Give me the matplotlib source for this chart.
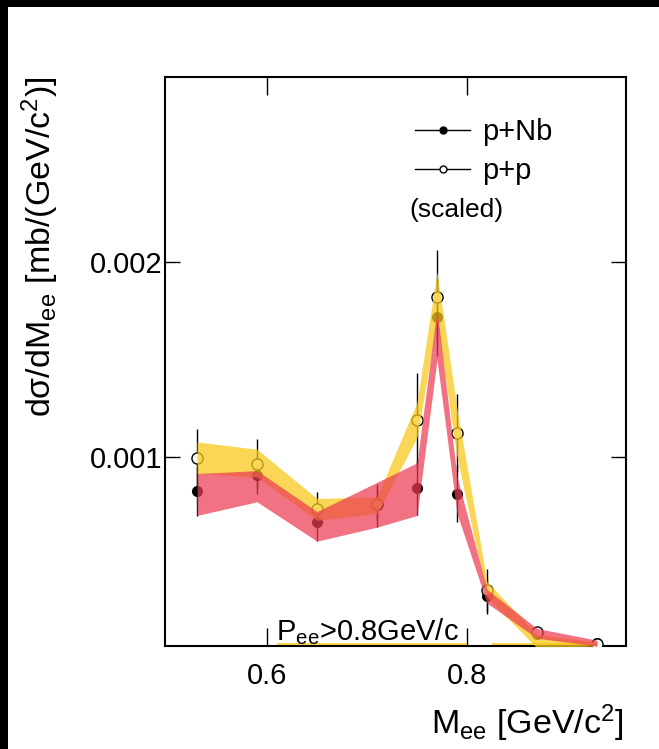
import matplotlib
matplotlib.use('Agg')
import matplotlib.pyplot as plt
from matplotlib.lines import Line2D
from matplotlib.patches import Rectangle

plt.rcParams['font.family'] = ['Liberation Sans', 'DejaVu Sans']
plt.rcParams['mathtext.fontset'] = 'custom'
plt.rcParams['mathtext.rm'] = 'Liberation Sans'
plt.rcParams['mathtext.it'] = 'Liberation Sans:italic'
plt.rcParams['mathtext.bf'] = 'Liberation Sans:bold'

# dielectron invariant mass bins (GeV/c^2)
mass = [0.53, 0.59, 0.65, 0.71, 0.75, 0.77, 0.79, 0.82, 0.87, 0.93]

# p+Nb: value, statistical error, systematic band
nb_val = [0.000826, 0.00091, 0.000667, 0.000752, 0.000841, 0.00172, 0.000812, 0.000286, 0.000094, 0.000048]
nb_err = [0.00013, 0.00010, 0.00010, 0.00011, 0.00014, 0.00020, 0.000145, 0.00009, 0.00003, 0.00001]
nb_lo = [0.00070, 0.00077, 0.000568, 0.00064, 0.00070, 0.00150, 0.00071, 0.00025, 0.00007, 0.00003]
nb_hi = [0.000915, 0.00093, 0.00072, 0.00087, 0.00097, 0.00176, 0.00090, 0.00032, 0.00012, 0.00006]

# p+p (scaled): value, statistical error, systematic band
pp_val = [0.000995, 0.000966, 0.000732, 0.000757, 0.00119, 0.001823, 0.001125, 0.000316, 0.00010, 0.00004]
pp_err = [0.00015, 0.000124, 0.00009, 0.00008, 0.00024, 0.00024, 0.00020, 0.00011, 0.00003, 0.00001]
pp_lo = [0.000915, 0.000897, 0.000675, 0.00071, 0.00110, 0.00170, 0.00100, 0.00028, 0.00002, 0.00003]
pp_hi = [0.001077, 0.00104, 0.000787, 0.000795, 0.00128, 0.00195, 0.00125, 0.00036, 0.00009, 0.00005]

# thin p+p band pieces lying on the floor of the plot
floor_level = 0.00004
floor_spans = [(0.61, 0.80), (0.825, 0.93)]

yellow = '#f7c91c'
red = '#ec3c52'

fig = plt.figure(figsize=(6.59, 7.49), dpi=100)
ax = fig.add_axes([0.2504, 0.1375, 0.6995, 0.7597])

# black strips along the top and left edge of the canvas
fig.add_artist(Rectangle((0, 0), 8 / 659, 1, transform=fig.transFigure, color='black', lw=0))
fig.add_artist(Rectangle((0, 1 - 7 / 749), 1, 7 / 749, transform=fig.transFigure, color='black', lw=0))

# data points with stat errors
ax.errorbar(mass, nb_val, yerr=nb_err, fmt='o', color='black', ms=7,
            elinewidth=1, capsize=0, zorder=2)
ax.errorbar(mass, pp_val, yerr=pp_err, fmt='o', mfc='white', mec='black', ecolor='black',
            ms=8, mew=1, elinewidth=1, capsize=0, zorder=2.5)

# systematic bands on top
ax.fill_between(mass, pp_lo, pp_hi, color=yellow, alpha=0.75, lw=0, zorder=3)
ax.fill_between(mass, nb_lo, nb_hi, color=red, alpha=0.72, lw=0, zorder=4)
for x0, x1 in floor_spans:
    ax.hlines(floor_level, x0, x1, color=yellow, lw=1.2, zorder=3)

ax.set_xlim(0.498, 0.959)
ax.set_ylim(0.00003, 0.00295)
ax.set_xticks([0.6, 0.8])
ax.set_xticklabels(['0.6', '0.8'])
ax.set_yticks([0.001, 0.002])
ax.set_yticklabels(['0.001', '0.002'])
ax.minorticks_off()
ax.tick_params(direction='in', top=True, right=True, labelsize=21, width=1)
ax.tick_params(axis='x', length=13, pad=11.5)
ax.tick_params(axis='y', length=11, pad=2)
for sp in ax.spines.values():
    sp.set_linewidth(1.5)

ax.set_ylabel('dσ/dM$_{\\rm ee}$ [mb/(GeV/c$^{2}$)]', fontsize=24.5, loc='top')
ax.yaxis.set_label_coords(-0.225, 1.0)
ax.set_xlabel('M$_{\\rm ee}$ [GeV/c$^{2}$]', fontsize=24.5, loc='right')
ax.xaxis.set_label_coords(0.995, -0.10)

handles = [Line2D([], [], color='black', marker='o', ms=5, lw=1),
           Line2D([], [], color='black', marker='o', mfc='white', ms=5, lw=1)]
ax.legend(handles, ['p+Nb', 'p+p'], loc='upper left', bbox_to_anchor=(0.542, 0.928),
          frameon=False, fontsize=21, handlelength=1.9, handletextpad=0.4,
          labelspacing=0.38, borderpad=0, borderaxespad=0)
ax.text(0.531, 0.766, '(scaled)', transform=ax.transAxes, fontsize=19, va='center', ha='left')
ax.text(0.70, 0.00006, 'P$_{\\rm ee}$>0.8GeV/c', fontsize=21, ha='center', va='baseline')

fig.savefig('out.png', dpi=100)
